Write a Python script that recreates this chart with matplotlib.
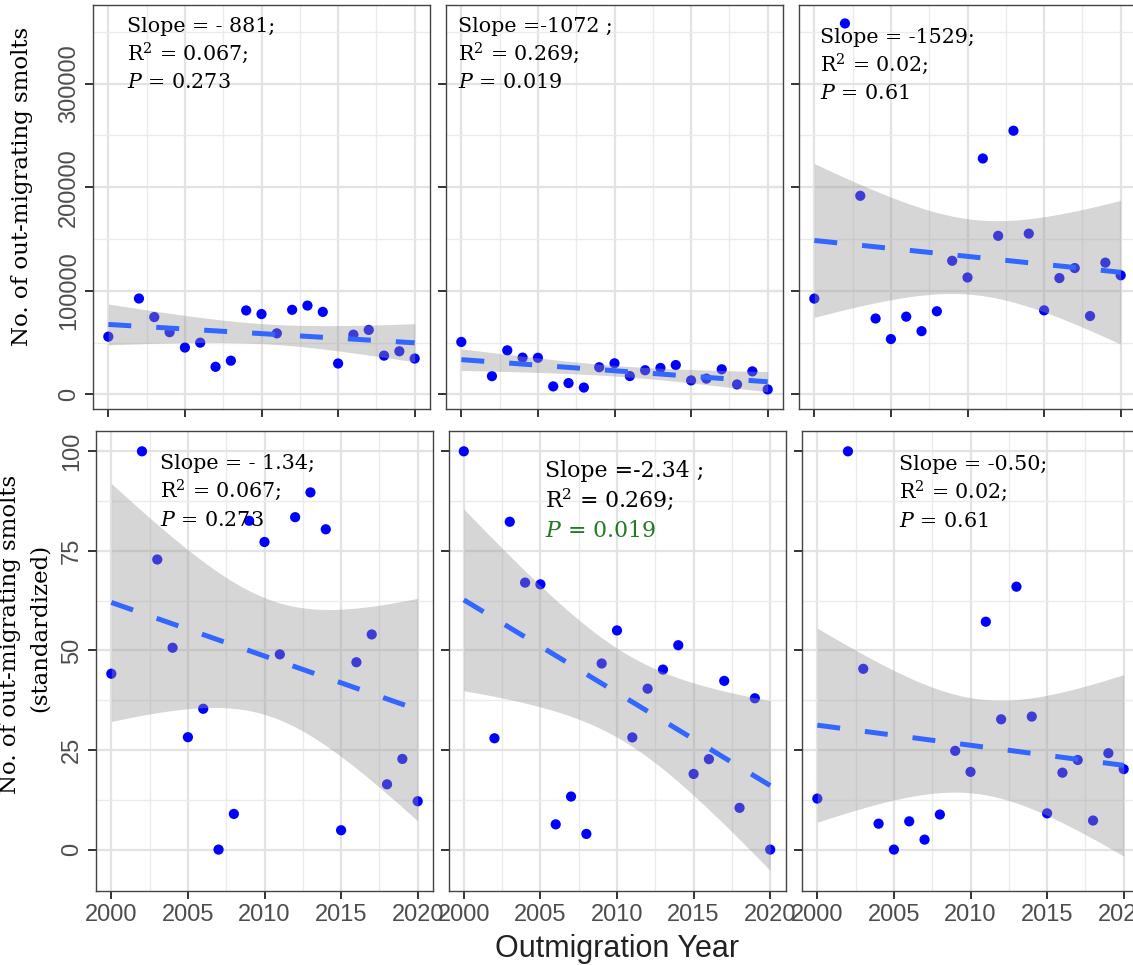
import numpy as np
import matplotlib.pyplot as plt
from matplotlib.ticker import MultipleLocator

# --- data (2001 has no count) ---
years = [2000, 2002, 2003, 2004, 2005, 2006, 2007, 2008, 2009, 2010,
         2011, 2012, 2013, 2014, 2015, 2016, 2017, 2018, 2019, 2020]

smolts_left = [55800, 92600, 74700, 60100, 45300, 50000, 26700, 32600, 81100, 77600,
               59000, 81700, 85800, 79700, 29900, 57700, 62300, 37500, 41700, 34700]
smolts_mid = [50700, 17700, 42600, 35600, 35400, 7800, 11000, 6700, 26300, 30100,
              17800, 23400, 25600, 28400, 13600, 15300, 24300, 9700, 22300, 4900]
smolts_right = [92500, 358000, 191700, 73300, 53500, 75100, 61100, 80300, 129000, 112900,
                227700, 153100, 254500, 155200, 81200, 112300, 122000, 75700, 127200, 115000]

slope_raw = ["Slope = - 881;", "Slope =-1072 ;", "Slope = -1529;"]
slope_std = ["Slope = - 1.34;", "Slope =-2.34 ;", "Slope = -0.50;"]
r2_text = ["R$^2$ = 0.067;", "R$^2$ = 0.269;", "R$^2$ = 0.02;"]
p_text = ["0.273", "0.019", "0.61"]

T975 = 2.100922  # qt(0.975, df = 18)


def standardize(v):
    v = np.asarray(v, float)
    return (v - v.min()) / (v.max() - v.min()) * 100


def lm_band(x, y, n=80):
    # same thing geom_smooth(method = "lm") draws
    x = np.asarray(x, float)
    y = np.asarray(y, float)
    b1, b0 = np.polyfit(x, y, 1)
    xs = np.linspace(x.min(), x.max(), n)
    fit = b0 + b1 * xs
    resid = y - (b0 + b1 * x)
    s = np.sqrt(np.sum(resid ** 2) / (len(x) - 2))
    se = s * np.sqrt(1 / len(x) + (xs - x.mean()) ** 2 / np.sum((x - x.mean()) ** 2))
    return xs, fit, fit - T975 * se, fit + T975 * se


plt.rcParams['font.family'] = ['Liberation Sans', 'DejaVu Sans']
plt.rcParams['mathtext.fontset'] = 'dejavuserif'

W, H = 1133, 965
fig = plt.figure(figsize=(W / 100, H / 100), dpi=100)


def box(left, top, right, bottom):
    return [left / W, 1 - bottom / H, (right - left) / W, (bottom - top) / H]


top_lefts = [93, 446, 799]
bot_lefts = [96, 448.5, 802]
pw = 337

series = [smolts_left, smolts_mid, smolts_right]
text_pos_top = [(127, 32), (458, 32), (820, 43)]
text_pos_bot = [(160, 469), (545, 477), (899, 470)]


def style_axes(ax, ylim, ymajor, yminor, show_xlab, show_ylab):
    ax.set_xlim(1999, 2021)
    ax.set_ylim(*ylim)
    ax.xaxis.set_major_locator(MultipleLocator(5))
    ax.xaxis.set_minor_locator(MultipleLocator(2.5))
    ax.yaxis.set_major_locator(MultipleLocator(ymajor))
    ax.yaxis.set_minor_locator(MultipleLocator(yminor))
    ax.grid(which='major', color='#e3e3e3', lw=1.6, zorder=0)
    ax.grid(which='minor', color='#ebebeb', lw=1.0, zorder=0)
    ax.set_axisbelow(True)
    for sp in ax.spines.values():
        sp.set_color('#444444')
        sp.set_linewidth(1.0)
    ax.tick_params(which='major', length=5.5, width=1.4, color='#333333',
                   labelsize=17, labelcolor='#4d4d4d', pad=4)
    ax.tick_params(which='minor', length=0)
    ax.tick_params(axis='x', labelbottom=show_xlab)
    ax.tick_params(axis='y', labelleft=show_ylab)
    if show_ylab:
        for lab in ax.get_yticklabels():
            lab.set_rotation(90)
            lab.set_va('center')


def draw_panel(ax, y):
    ax.scatter(years, y, s=54, color='#0000ff', edgecolors='none', zorder=2)
    xs, fit, lo, hi = lm_band(years, y)
    ax.fill_between(xs, lo, hi, color='#999999', alpha=0.4, lw=0, zorder=3)
    ax.plot(xs, fit, color='#3366ff', lw=3.6, dashes=(4.6, 5.0), zorder=4)


def annotate(x, y, lines, size, gap, pcol='black'):
    serif = dict(family='DejaVu Serif', fontsize=size, va='baseline', ha='left')
    fig.text(x / W, 1 - y / H, lines[0], **serif)
    fig.text(x / W, 1 - (y + gap) / H, lines[1], **serif)
    fig.text(x / W, 1 - (y + 2 * gap) / H, r"$\mathit{P}$ = " + lines[2], color=pcol, **serif)


for i in range(3):
    ax = fig.add_axes(box(top_lefts[i], 5, top_lefts[i] + pw, 409))
    draw_panel(ax, series[i])
    style_axes(ax, (-14000, 375800), 100000, 50000, False, i == 0)
    x, y = text_pos_top[i]
    annotate(x, y, [slope_raw[i], r2_text[i], p_text[i]], 14.9, 28)

    ax = fig.add_axes(box(bot_lefts[i], 431, bot_lefts[i] + pw, 891))
    draw_panel(ax, standardize(series[i]))
    style_axes(ax, (-10.4, 105.1), 25, 12.5, True, i == 0)
    x, y = text_pos_bot[i]
    if i == 1:
        annotate(x, y, [slope_std[i], r2_text[i], p_text[i]], 15.8, 30, pcol='#237a23')
    else:
        annotate(x, y, [slope_std[i], r2_text[i], p_text[i]], 14.9, 28.5)

fig.text(22 / W, 1 - 186 / H, "No. of out-migrating smolts", family='DejaVu Serif',
         fontsize=16.5, rotation=90, ha='center', va='center')
fig.text(10 / W, 1 - 634 / H, "No. of out-migrating smolts", family='DejaVu Serif',
         fontsize=16.5, rotation=90, ha='center', va='center')
fig.text(40 / W, 1 - 628 / H, "(standardized)", family='DejaVu Serif',
         fontsize=16.5, rotation=90, ha='center', va='center')
fig.text(617 / W, 1 - 949 / H, "Outmigration Year", fontsize=22, color='#222222',
         ha='center', va='center')

fig.savefig('out.png', dpi=100)
